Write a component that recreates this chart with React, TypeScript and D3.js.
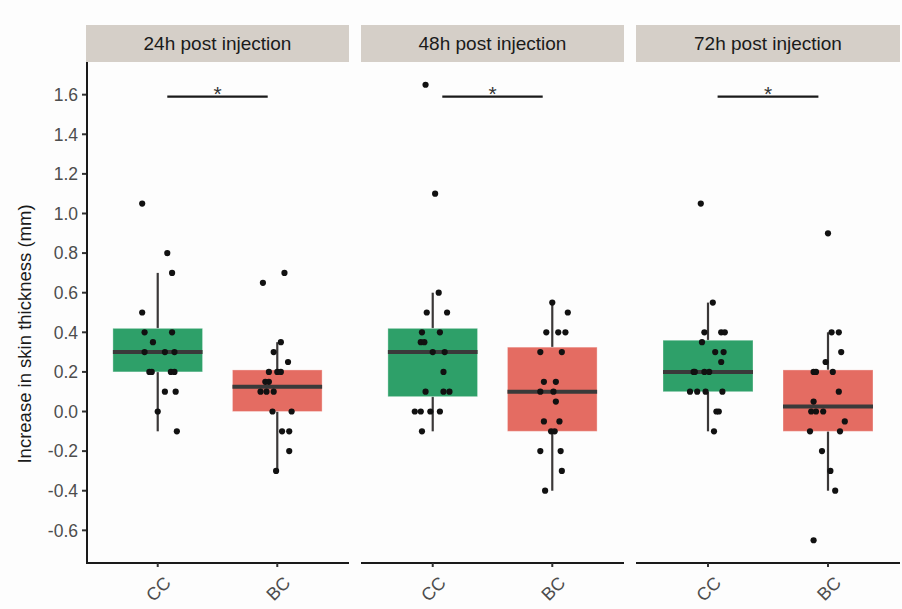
import React from "react";
import * as d3 from "d3";

// Facets and groups
const panels = ["24h post injection", "48h post injection", "72h post injection"];
const groups = ["CC", "BC"];
const groupColors = ["#2ea069", "#e46c62"];
const yTicks = [-0.6, -0.4, -0.2, 0, 0.2, 0.4, 0.6, 0.8, 1.0, 1.2, 1.4, 1.6];

// Individual measurements (mm) with their horizontal jitter (category units)
const cc24Values = [1.05, 0.8, 0.7, 0.5, 0.4, 0.4, 0.35, 0.3, 0.3, 0.3, 0.2, 0.2, 0.2, 0.2, 0.1, 0.1, 0.0, -0.1];
const cc24Jitter = [-0.13, 0.08, 0.12, -0.13, -0.11, 0.12, -0.04, -0.11, 0.06, 0.14, -0.07, -0.05, 0.11, 0.14, 0.06, 0.15, 0.0, 0.16];
const bc24Values = [0.7, 0.65, 0.35, 0.3, 0.25, 0.2, 0.2, 0.2, 0.15, 0.15, 0.1, 0.1, 0.1, 0.0, 0.0, -0.1, -0.1, -0.2, -0.3];
const bc24Jitter = [0.06, -0.12, 0.03, -0.03, 0.09, -0.07, 0.0, 0.03, -0.1, -0.07, -0.14, -0.09, -0.03, -0.04, 0.12, 0.04, 0.1, 0.1, -0.01];
const cc48Values = [1.65, 1.1, 0.6, 0.5, 0.5, 0.4, 0.4, 0.35, 0.35, 0.3, 0.3, 0.2, 0.1, 0.1, 0.1, 0.0, 0.0, 0.0, 0.0, -0.1];
const cc48Jitter = [-0.06, 0.02, 0.05, -0.05, 0.12, -0.09, 0.06, -0.1, -0.07, 0.0, 0.1, 0.09, -0.06, 0.09, 0.14, -0.15, -0.1, -0.02, 0.06, -0.09];
const bc48Values = [0.55, 0.5, 0.4, 0.4, 0.4, 0.3, 0.3, 0.15, 0.15, 0.1, 0.1, 0.05, -0.05, -0.05, -0.1, -0.1, -0.2, -0.2, -0.3, -0.4];
const bc48Jitter = [0.0, 0.13, -0.05, 0.05, 0.11, -0.1, 0.08, -0.07, 0.03, -0.1, 0.01, 0.03, -0.07, 0.06, -0.01, 0.02, -0.1, 0.07, 0.08, -0.06];
const cc72Values = [1.05, 0.55, 0.4, 0.4, 0.4, 0.35, 0.3, 0.3, 0.25, 0.2, 0.2, 0.2, 0.2, 0.1, 0.1, 0.1, 0.1, 0.0, 0.0, -0.1];
const cc72Jitter = [-0.06, 0.04, -0.03, 0.11, 0.14, -0.05, 0.06, 0.13, 0.11, -0.12, -0.11, -0.03, 0.01, -0.15, -0.09, -0.02, 0.12, 0.07, 0.09, 0.05];
const bc72Values = [0.9, 0.4, 0.4, 0.3, 0.25, 0.2, 0.2, 0.2, 0.1, 0.05, 0.0, 0.0, 0.0, -0.05, -0.1, -0.1, -0.2, -0.3, -0.4, -0.65];
const bc72Jitter = [0.0, 0.03, 0.09, 0.11, -0.02, -0.12, -0.1, 0.04, 0.09, -0.12, -0.14, -0.1, -0.04, 0.14, -0.15, 0.1, -0.05, 0.02, 0.06, -0.12];

// Box summaries, order: 24h CC, 24h BC, 48h CC, 48h BC, 72h CC, 72h BC
const whiskerLow = [-0.1, -0.3, -0.1, -0.4, -0.1, -0.4];
const quartile1 = [0.2, 0.0, 0.075, -0.1, 0.1, -0.1];
const medians = [0.3, 0.125, 0.3, 0.1, 0.2, 0.025];
const quartile3 = [0.42, 0.21, 0.42, 0.325, 0.36, 0.21];
const whiskerHigh = [0.7, 0.35, 0.6, 0.55, 0.55, 0.4];

// Significance bracket between the two groups in every panel
const sigLevel = 1.59;
const sigLabel = "*";

const pointValues = [cc24Values, bc24Values, cc48Values, bc48Values, cc72Values, bc72Values];
const pointJitter = [cc24Jitter, bc24Jitter, cc48Jitter, bc48Jitter, cc72Jitter, bc72Jitter];

const W = 902;
const H = 609;
const panelX: [number, number][] = [[86, 349], [361, 624], [636, 900]];
const stripTop = 25;
const plotTop = 62;
const plotBottom = 563;
const boxWidth = 0.75;
const font = "'Liberation Sans', Arial, Helvetica, sans-serif";

const fmt = (v: number) => d3.format(".1f")(v).replace("\u2212", "-");

export default function App() {
  const y = d3.scaleLinear().domain([-0.765, 1.765]).range([plotBottom, plotTop]);

  return (
    <div style={{ position: "absolute", left: 0, top: 0 }}>
      <svg width={W} height={H} style={{ display: "block", background: "#fdfdfd" }}>
        {/* y axis title */}
        <text
          transform={`translate(31, 334) rotate(-90)`}
          textAnchor="middle"
          fontFamily={font}
          fontSize={18.5}
          fill="#1a1a1a"
        >
          Increase in skin thickness (mm)
        </text>

        {/* y axis (first panel only) */}
        <g>
          <line x1={panelX[0][0] + 1} x2={panelX[0][0] + 1} y1={plotTop} y2={plotBottom + 1} stroke="#1a1a1a" strokeWidth={2} />
          {yTicks.map((t) => (
            <g key={t} transform={`translate(0, ${y(t)})`}>
              <line x1={panelX[0][0] - 4} x2={panelX[0][0]} stroke="#333" strokeWidth={2} />
              <text
                x={panelX[0][0] - 8}
                dy="0.36em"
                textAnchor="end"
                fontFamily={font}
                fontSize={17.5}
                fill="#4d4d4d"
              >
                {fmt(t)}
              </text>
            </g>
          ))}
        </g>

        {panels.map((title, p) => {
          const [x0, x1] = panelX[p];
          const x = d3.scaleLinear().domain([0.4, 2.6]).range([x0, x1]);
          const halfBox = (x(1 + boxWidth / 2) - x(1 - boxWidth / 2)) / 2;
          return (
            <g key={title}>
              {/* strip */}
              <rect x={x0} y={stripTop} width={x1 - x0} height={plotTop - stripTop} fill="#d5cfc8" />
              <text
                x={(x0 + x1) / 2}
                y={(stripTop + plotTop) / 2}
                dy="0.36em"
                textAnchor="middle"
                fontFamily={font}
                fontSize={19}
                fill="#1a1a1a"
              >
                {title}
              </text>

              {/* boxes */}
              {groups.map((g, gi) => {
                const k = p * 2 + gi;
                const cx = x(gi + 1);
                return (
                  <g key={g}>
                    <line x1={cx} x2={cx} y1={y(quartile3[k])} y2={y(whiskerHigh[k])} stroke="#3b3838" strokeWidth={2.2} />
                    <line x1={cx} x2={cx} y1={y(quartile1[k])} y2={y(whiskerLow[k])} stroke="#3b3838" strokeWidth={2.2} />
                    <rect
                      x={cx - halfBox}
                      y={y(quartile3[k])}
                      width={halfBox * 2}
                      height={y(quartile1[k]) - y(quartile3[k])}
                      fill={groupColors[gi]}
                      stroke="#ffffff"
                      strokeOpacity={0.35}
                      strokeWidth={1}
                    />
                    <line
                      x1={cx - halfBox}
                      x2={cx + halfBox}
                      y1={y(medians[k])}
                      y2={y(medians[k])}
                      stroke="#3a3a3a"
                      strokeWidth={4}
                    />
                  </g>
                );
              })}

              {/* points */}
              {groups.map((g, gi) => {
                const k = p * 2 + gi;
                return pointValues[k].map((v, i) => (
                  <circle key={`${g}-${i}`} cx={x(gi + 1 + pointJitter[k][i])} cy={y(v)} r={3.1} fill="#111" />
                ));
              })}

              {/* significance */}
              <line x1={x(1.08)} x2={x(1.92)} y1={y(sigLevel)} y2={y(sigLevel)} stroke="#1a1a1a" strokeWidth={2.2} />
              <text
                x={x(1.5)}
                y={y(sigLevel) + 4}
                textAnchor="middle"
                fontFamily={font}
                fontSize={21}
                fill="#333"
              >
                {sigLabel}
              </text>

              {/* x axis */}
              <line x1={x0} x2={x1} y1={plotBottom} y2={plotBottom} stroke="#1a1a1a" strokeWidth={2} />
              {groups.map((g, gi) => {
                const cx = x(gi + 1);
                return (
                  <g key={g}>
                    <line x1={cx} x2={cx} y1={plotBottom} y2={plotBottom + 4} stroke="#333" strokeWidth={2} />
                    <text
                      transform={`translate(${cx + 5}, ${plotBottom + 12}) rotate(-45)`}
                      textAnchor="end"
                      dy="0.72em"
                      fontFamily={font}
                      fontSize={18}
                      fill="#4d4d4d"
                    >
                      {g}
                    </text>
                  </g>
                );
              })}
            </g>
          );
        })}
      </svg>
    </div>
  );
}
